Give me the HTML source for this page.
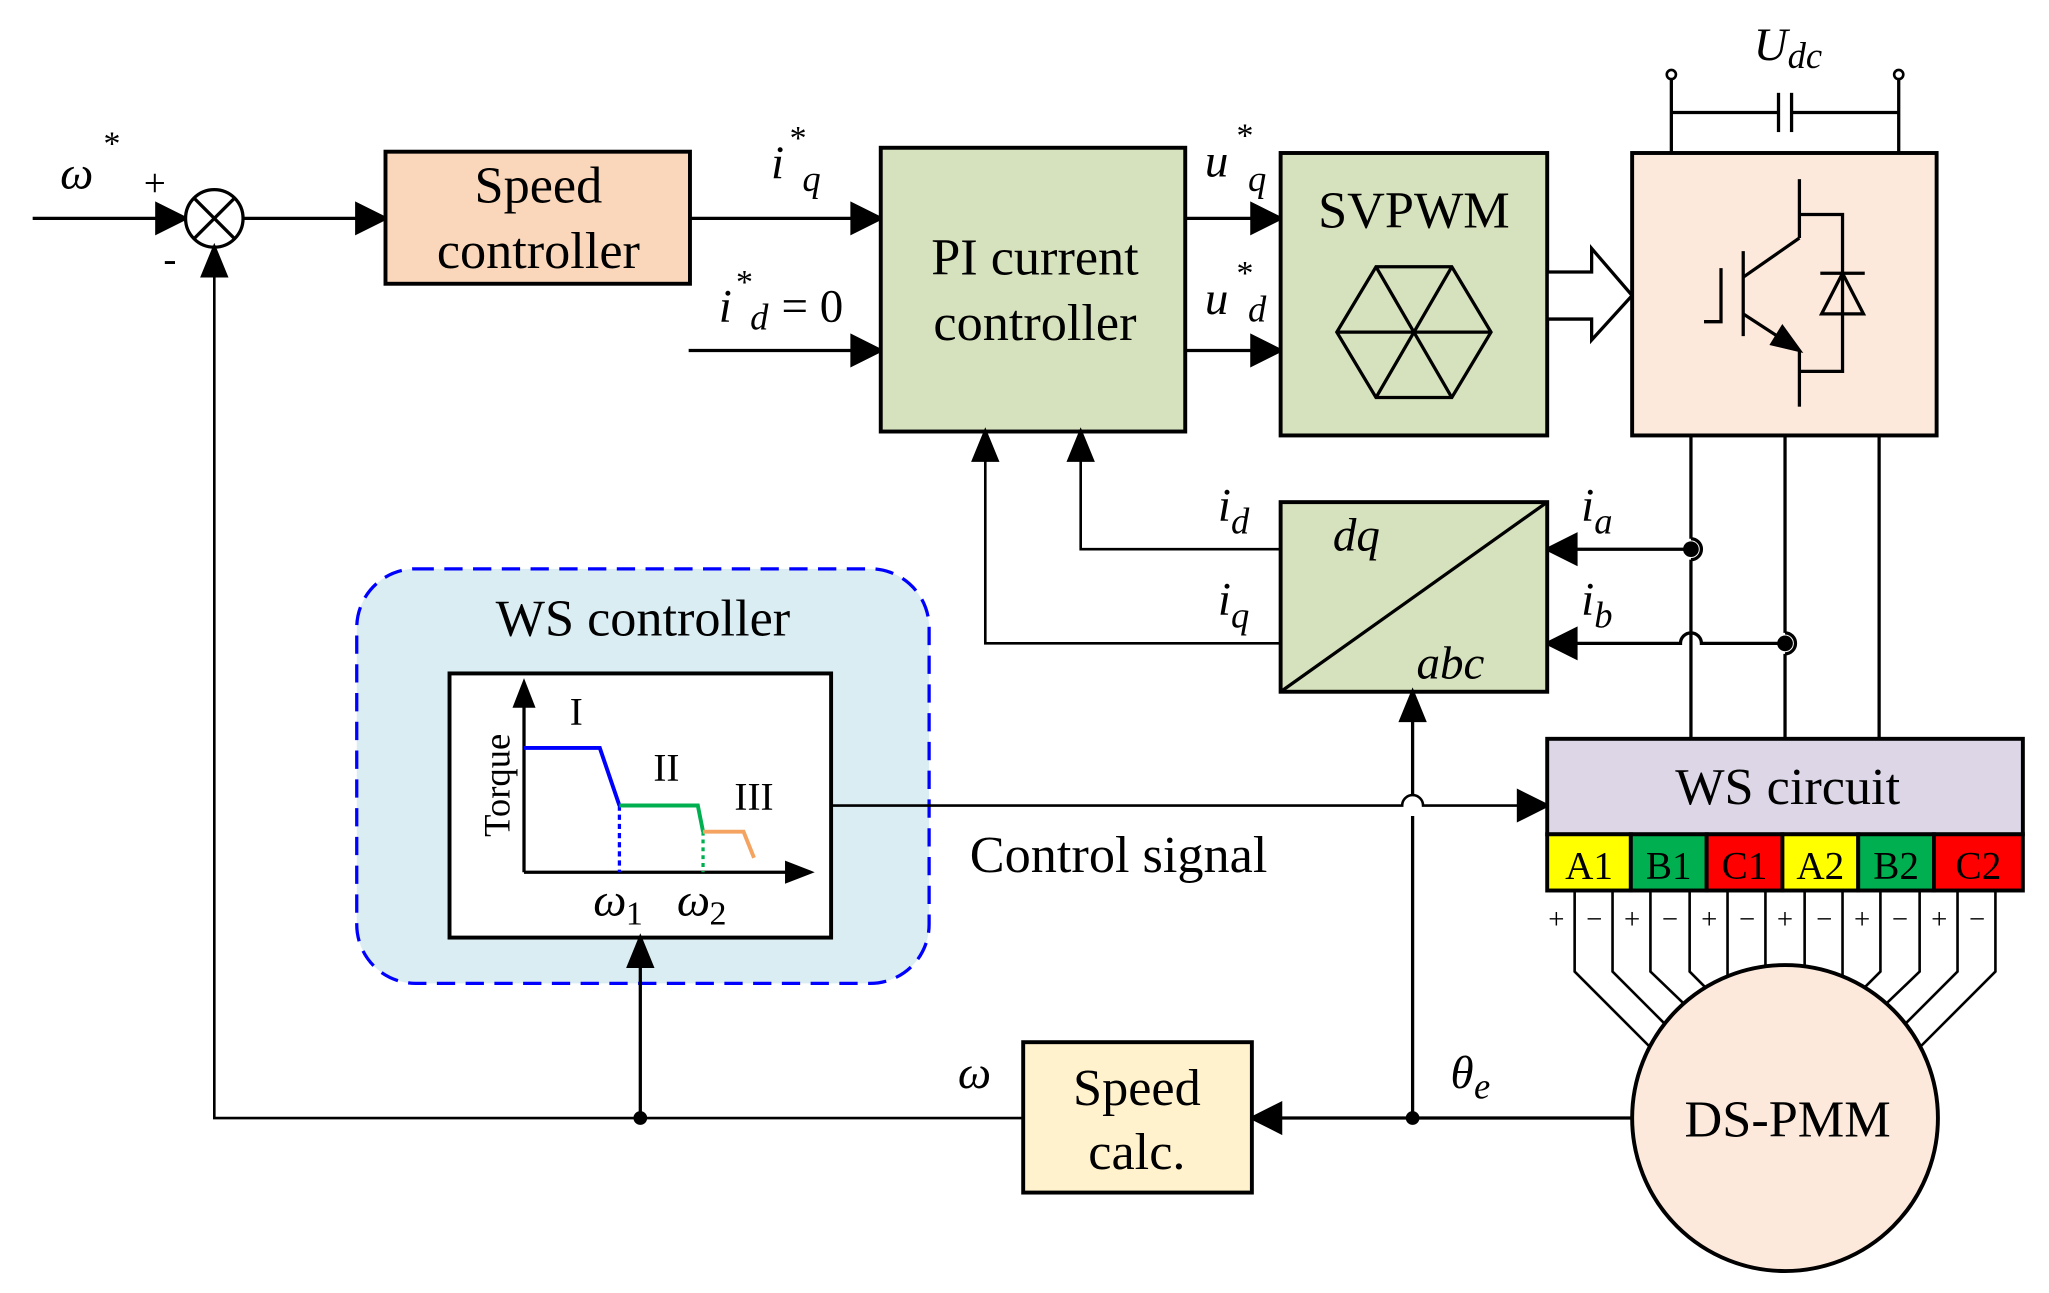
<!DOCTYPE html>
<html><head><meta charset="utf-8"><style>
html,body{margin:0;padding:0;background:#fff}
svg{display:block}
text{font-family:"Liberation Serif",serif;fill:#000}
.it{font-style:italic}
</style></head><body>
<svg width="2049" height="1293" viewBox="0 0 1568 988.8" preserveAspectRatio="none" xmlns="http://www.w3.org/2000/svg">
<g stroke="#000" stroke-width="2.5" fill="none">
<rect x="273" y="435" width="438" height="317" rx="45" fill="#daedf3" stroke="#0000ff" stroke-dasharray="14,8" stroke-width="2.5"/>
<line x1="25" y1="167" x2="130" y2="167"/>
<polygon points="142,167 120,156 120,178" fill="#000"/>
<ellipse cx="164" cy="167" rx="22" ry="22" fill="#fff"/>
<line x1="148" y1="151" x2="180" y2="183"/><line x1="180" y1="151" x2="148" y2="183"/>
<line x1="186" y1="167" x2="283" y2="167"/>
<polygon points="295,167 273,156 273,178" fill="#000"/>
<polyline points="164,202 164,855 783,855" stroke-width="2"/>
<polygon points="164,189 155,211 173,211" fill="#000"/>
<circle cx="490" cy="855" r="4" fill="#000"/>
<line x1="490" y1="855" x2="490" y2="730"/>
<rect x="295" y="116" width="233" height="101" fill="#fad7bb" stroke-width="3"/>
<line x1="528" y1="167" x2="662" y2="167"/>
<polygon points="674,167 652,156 652,178" fill="#000"/>
<line x1="527" y1="268" x2="662" y2="268"/>
<polygon points="674,268 652,257 652,279" fill="#000"/>
<rect x="674" y="113" width="233" height="217" fill="#d6e2bd" stroke-width="3"/>
<line x1="907" y1="167" x2="968" y2="167"/>
<polygon points="980,167 958,156 958,178" fill="#000"/>
<line x1="907" y1="268" x2="968" y2="268"/>
<polygon points="980,268 958,257 958,279" fill="#000"/>
<rect x="980" y="117" width="204" height="216" fill="#d6e2bd" stroke-width="3"/>
<polygon points="1023,254 1053,204 1111,204 1141,254 1111,304 1053,304"/>
<line x1="1023" y1="254" x2="1141" y2="254"/>
<line x1="1053" y1="204" x2="1111" y2="304"/>
<line x1="1111" y1="204" x2="1053" y2="304"/>
<polygon points="1184,208 1218,208 1218,190 1249,226 1218,260 1218,244 1184,244" fill="#fff"/>
<rect x="1249" y="117" width="233" height="216" fill="#fce9dc" stroke-width="3"/>
<polyline points="1279,61 1279,117"/><polyline points="1453,61 1453,117"/>
<line x1="1279" y1="86" x2="1361" y2="86"/><line x1="1371" y1="86" x2="1453" y2="86"/>
<line x1="1361" y1="71" x2="1361" y2="101"/><line x1="1371" y1="71" x2="1371" y2="101"/>
<circle cx="1279" cy="57" r="3.5" fill="#fff" stroke-width="2"/>
<circle cx="1453" cy="57" r="3.5" fill="#fff" stroke-width="2"/>
<line x1="1377" y1="137" x2="1377" y2="182"/>
<line x1="1377" y1="182" x2="1334" y2="212"/>
<line x1="1334" y1="192" x2="1334" y2="257"/>
<polyline points="1304,246 1317,246 1317,205"/>
<line x1="1334" y1="240" x2="1377" y2="268"/>
<polygon points="1377,268 1356,263 1364,250" fill="#000"/>
<line x1="1377" y1="268" x2="1377" y2="311"/>
<polyline points="1377,164 1410,164 1410,240"/>
<polygon points="1394,240 1426,240 1410,209"/>
<line x1="1393" y1="209" x2="1427" y2="209"/>
<polyline points="1410,240 1410,284 1377,284"/>
<line x1="1294" y1="333" x2="1294" y2="412"/>
<path d="M1294,412 A8,8 0 0 1 1294,428"/>
<line x1="1294" y1="428" x2="1294" y2="565"/>
<line x1="1366" y1="333" x2="1366" y2="484"/>
<path d="M1366,484 A8,8 0 0 1 1366,500"/>
<line x1="1366" y1="500" x2="1366" y2="565"/>
<line x1="1438" y1="333" x2="1438" y2="565"/>
<circle cx="1294" cy="420" r="6" fill="#000" stroke="none"/>
<circle cx="1366" cy="492" r="6" fill="#000" stroke="none"/>
<line x1="1294" y1="420" x2="1196" y2="420"/>
<polygon points="1184,420 1206,409 1206,431" fill="#000"/>
<path d="M1366,492 L1302,492 A8,8 0 0 0 1286,492 L1196,492"/>
<polygon points="1184,492 1206,481 1206,503" fill="#000"/>
<rect x="980" y="384" width="204" height="145" fill="#d6e2bd" stroke-width="3"/>
<line x1="980" y1="529" x2="1184" y2="384"/>
<polyline points="980,420 827,420 827,342" stroke-width="2"/>
<polygon points="827,330 818,352 836,352" fill="#000"/>
<polyline points="980,492 754,492 754,342" stroke-width="2"/>
<polygon points="754,330 745,352 763,352" fill="#000"/>
<line x1="1249" y1="855" x2="970" y2="855"/>
<polygon points="958,855 980,844 980,866" fill="#000"/>
<circle cx="1081" cy="855" r="4" fill="#000"/>
<line x1="1081" y1="855" x2="1081" y2="624"/>
<path d="M1081,608 L1081,541"/>
<polygon points="1081,529 1072,551 1090,551" fill="#000"/>
<path d="M636,616 L1073,616 A8,8 0 0 1 1089,616 L1172,616" stroke-width="2"/>
<polygon points="1184,616 1162,605 1162,627" fill="#000"/>
<rect x="344" y="515" width="292" height="202" fill="#fff" stroke-width="3"/>
<polygon points="490,717 481,739 499,739" fill="#000"/>
<line x1="401" y1="667" x2="401" y2="535"/>
<polygon points="401,522 394,540 408,540" fill="#000"/>
<line x1="401" y1="667" x2="605" y2="667"/>
<polygon points="620,667 602,660 602,674" fill="#000"/>
<polyline points="401,572 459,572 474,616" stroke="#0000ff" stroke-width="3"/>
<line x1="474" y1="616" x2="474" y2="667" stroke="#0000ff" stroke-dasharray="4,3" stroke-width="2.5"/>
<polyline points="474,616 534,616 538,636" stroke="#00b050" stroke-width="3"/>
<line x1="538" y1="636" x2="538" y2="667" stroke="#00b050" stroke-dasharray="3,3" stroke-width="2.5"/>
<polyline points="538,636 569,636 577,656" stroke="#f4a460" stroke-width="3"/>
<rect x="783" y="797" width="175" height="115" fill="#fff2cc" stroke-width="3"/>
<rect x="1184" y="565" width="364" height="73" fill="#dcd6e6" stroke-width="3"/>
<rect x="1184" y="638" width="64" height="43" fill="#ffff00" stroke-width="3"/>
<rect x="1248" y="638" width="58" height="43" fill="#00b050" stroke-width="3"/>
<rect x="1306" y="638" width="58" height="43" fill="#ff0000" stroke-width="3"/>
<rect x="1364" y="638" width="58" height="43" fill="#ffff00" stroke-width="3"/>
<rect x="1422" y="638" width="58" height="43" fill="#00b050" stroke-width="3"/>
<rect x="1480" y="638" width="68" height="43" fill="#ff0000" stroke-width="3"/>
<g stroke-width="2">
<polyline points="1205,681 1205,743 1262,800"/>
<polyline points="1234,681 1234,743 1273,782"/>
<polyline points="1263,681 1263,743 1288,767"/>
<polyline points="1293,681 1293,743 1305,755"/>
<polyline points="1322,681 1322,746"/>
<polyline points="1351,681 1351,739"/>
<polyline points="1381,681 1381,739"/>
<polyline points="1410,681 1410,746"/>
<polyline points="1439,681 1439,743 1427,755"/>
<polyline points="1469,681 1469,743 1444,767"/>
<polyline points="1498,681 1498,743 1459,782"/>
<polyline points="1527,681 1527,743 1470,800"/>
</g>
<circle cx="1366" cy="855" r="117" fill="#fce9dc" stroke-width="3"/>
</g>
<g font-size="40" text-anchor="middle">
<text x="412" y="155">Speed</text>
<text x="412" y="205">controller</text>
<text x="792" y="210">PI current</text>
<text x="792" y="260">controller</text>
<text x="1082" y="174">SVPWM</text>
<text x="492" y="486">WS controller</text>
<text x="870" y="845">Speed</text>
<text x="870" y="894">calc.</text>
<text x="1368" y="615">WS circuit</text>
<text x="1368" y="869">DS-PMM</text>
<text x="856" y="667">Control signal</text>
</g>
<g font-size="30" text-anchor="middle">
<text x="1216" y="672">A1</text>
<text x="1277" y="672">B1</text>
<text x="1335" y="672" fill="#600">C1</text>
<text x="1393" y="672">A2</text>
<text x="1451" y="672">B2</text>
<text x="1514" y="672" fill="#600">C2</text>
</g>
<g font-size="22" text-anchor="middle" fill="#444">
<text x="1191" y="710">+</text><text x="1220" y="710">−</text>
<text x="1249" y="710">+</text><text x="1278" y="710">−</text>
<text x="1308" y="710">+</text><text x="1337" y="710">−</text>
<text x="1366" y="710">+</text><text x="1396" y="710">−</text>
<text x="1425" y="710">+</text><text x="1454" y="710">−</text>
<text x="1484" y="710">+</text><text x="1513" y="710">−</text>
</g>
<g font-size="36" class="it">
<text x="46" y="144" class="it">ω</text><text x="78" y="118" font-size="26">*</text>
<text x="590" y="136" class="it">i</text><text x="603" y="114" font-size="26">*</text><text x="614" y="146" font-size="28" class="it">q</text>
<text x="550" y="246" class="it">i</text><text x="562" y="224" font-size="26">*</text><text x="574" y="252" font-size="28" class="it">d</text><text x="598" y="246" font-style="normal">= 0</text>
<text x="922" y="135" class="it">u</text><text x="945" y="112" font-size="26">*</text><text x="955" y="146" font-size="28" class="it">q</text>
<text x="922" y="240" class="it">u</text><text x="945" y="217" font-size="26">*</text><text x="955" y="246" font-size="28" class="it">d</text>
<text x="1342" y="46" class="it">U</text><text x="1368" y="52" font-size="28" class="it">dc</text>
<text x="932" y="398" class="it">i</text><text x="942" y="408" font-size="28" class="it">d</text>
<text x="932" y="470" class="it">i</text><text x="942" y="480" font-size="28" class="it">q</text>
<text x="1210" y="398" class="it">i</text><text x="1220" y="408" font-size="28" class="it">a</text>
<text x="1210" y="470" class="it">i</text><text x="1220" y="480" font-size="28" class="it">b</text>
<text x="1020" y="421" class="it">dq</text>
<text x="1084" y="519" class="it">abc</text>
<text x="733" y="832" class="it">ω</text>
<text x="1110" y="832" class="it">θ</text><text x="1128" y="840" font-size="28" class="it">e</text>
<text x="454" y="700" class="it">ω</text><text x="479" y="707" font-size="26" font-style="normal">1</text>
<text x="518" y="700" class="it">ω</text><text x="543" y="707" font-size="26" font-style="normal">2</text>
</g>
<g font-size="30">
<text x="110" y="150">+</text>
<text x="125" y="208">-</text>
<text x="436" y="554">I</text>
<text x="500" y="597">II</text>
<text x="562" y="619">III</text>
<text transform="translate(390,640) rotate(-90)" font-size="28">Torque</text>
</g>
</svg>
</body></html>
